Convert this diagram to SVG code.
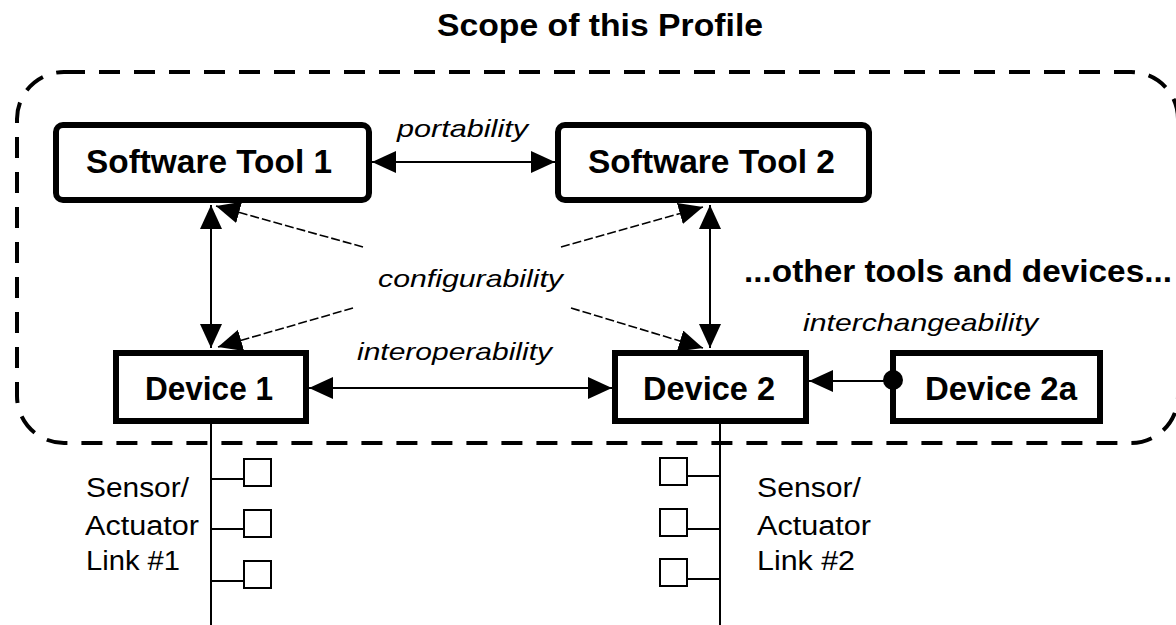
<svg xmlns="http://www.w3.org/2000/svg" width="1176" height="625" viewBox="0 0 1176 625">
  <defs>
    <marker id="ah" markerUnits="userSpaceOnUse" markerWidth="26" markerHeight="24" refX="24" refY="11" orient="auto-start-reverse" viewBox="0 0 26 24">
      <path d="M0,0 L24,11 L0,22 Z" fill="#000"/>
    </marker>
    <style>
      .bold { font-family: "Liberation Sans", Arial, sans-serif; font-weight: bold; fill: #000; }
      .ital { font-family: "Liberation Sans", Arial, sans-serif; font-style: italic; font-size: 24px; fill: #000; }
      .reg { font-family: "Liberation Sans", Arial, sans-serif; font-size: 27px; fill: #000; }
      .box { fill: #fff; stroke: #000; stroke-width: 6; }
      .conn { stroke: #000; stroke-width: 2; fill: none; }
      .dconn { stroke: #000; stroke-width: 1.6; fill: none; stroke-dasharray: 9 3; }
      .sq { fill: #fff; stroke: #000; stroke-width: 2; }
    </style>
  </defs>
  <rect width="1176" height="625" fill="#fff"/>

  <text class="bold" x="600" y="36" font-size="32" text-anchor="middle" textLength="326" lengthAdjust="spacingAndGlyphs">Scope of this Profile</text>

  <rect id="scope" x="17" y="72" width="1161" height="371" rx="47" fill="none" stroke="#000" stroke-width="4" stroke-dasharray="21 14"/>

  <g id="connectors">
    <line class="conn" x1="372" y1="162" x2="555" y2="162" marker-start="url(#ah)" marker-end="url(#ah)"/>
    <line class="conn" x1="211" y1="205" x2="211" y2="348" marker-start="url(#ah)" marker-end="url(#ah)"/>
    <line class="conn" x1="710" y1="205" x2="710" y2="348" marker-start="url(#ah)" marker-end="url(#ah)"/>
    <line class="conn" x1="309" y1="388" x2="612" y2="388" marker-start="url(#ah)" marker-end="url(#ah)"/>
    <line class="conn" x1="893" y1="381" x2="809" y2="381" marker-end="url(#ah)"/>
    <line class="dconn" x1="363" y1="247" x2="216" y2="206" marker-end="url(#ah)"/>
    <line class="dconn" x1="353" y1="308" x2="218" y2="347" marker-end="url(#ah)"/>
    <line class="dconn" x1="561" y1="247" x2="703" y2="207" marker-end="url(#ah)"/>
    <line class="dconn" x1="571" y1="308" x2="703" y2="348" marker-end="url(#ah)"/>
    <line class="conn" x1="211" y1="424" x2="211" y2="625"/>
    <line class="conn" x1="211" y1="479" x2="244" y2="479"/>
    <line class="conn" x1="211" y1="529" x2="244" y2="529"/>
    <line class="conn" x1="211" y1="581" x2="244" y2="581"/>
    <line class="conn" x1="720" y1="424" x2="720" y2="625"/>
    <line class="conn" x1="687" y1="476" x2="720" y2="476"/>
    <line class="conn" x1="687" y1="529" x2="720" y2="529"/>
    <line class="conn" x1="687" y1="579" x2="720" y2="579"/>
  </g>

  <g id="labels">
    <text class="ital" x="397" y="137" textLength="131" lengthAdjust="spacingAndGlyphs">portability</text>
    <text class="ital" x="378" y="287" textLength="185" lengthAdjust="spacingAndGlyphs">configurability</text>
    <text class="ital" x="357" y="360" textLength="195" lengthAdjust="spacingAndGlyphs">interoperability</text>
    <text class="ital" x="803" y="331" textLength="235" lengthAdjust="spacingAndGlyphs">interchangeability</text>
    <text class="bold" x="744" y="282" font-size="32" textLength="428" lengthAdjust="spacingAndGlyphs">...other tools and devices...</text>
  </g>

  <g id="tool1">
    <rect class="box" x="56" y="125" width="313" height="75" rx="7"/>
    <text class="bold" x="86" y="173" font-size="34" textLength="246" lengthAdjust="spacingAndGlyphs">Software Tool 1</text>
  </g>
  <g id="tool2">
    <rect class="box" x="558" y="125" width="311" height="75" rx="7"/>
    <text class="bold" x="588" y="173" font-size="34" textLength="247" lengthAdjust="spacingAndGlyphs">Software Tool 2</text>
  </g>
  <g id="device1">
    <rect class="box" x="116" y="353" width="190" height="68"/>
    <text class="bold" x="145" y="400" font-size="34" textLength="128" lengthAdjust="spacingAndGlyphs">Device 1</text>
  </g>
  <g id="device2">
    <rect class="box" x="615" y="353" width="191" height="68"/>
    <text class="bold" x="643" y="400" font-size="34" textLength="132" lengthAdjust="spacingAndGlyphs">Device 2</text>
  </g>
  <g id="device2a">
    <rect class="box" x="893" y="353" width="207" height="68"/>
    <text class="bold" x="925" y="400" font-size="34" textLength="152" lengthAdjust="spacingAndGlyphs">Device 2a</text>
    <circle cx="893" cy="380" r="10" fill="#000"/>
  </g>

  <g id="link1">
    <rect class="sq" x="244" y="459" width="27" height="27"/>
    <rect class="sq" x="244" y="510" width="27" height="27"/>
    <rect class="sq" x="244" y="561" width="27" height="27"/>
    <text class="reg" x="86" y="497" textLength="103" lengthAdjust="spacingAndGlyphs">Sensor/</text>
    <text class="reg" x="85" y="535" textLength="114" lengthAdjust="spacingAndGlyphs">Actuator</text>
    <text class="reg" x="86" y="570" textLength="94" lengthAdjust="spacingAndGlyphs">Link #1</text>
  </g>
  <g id="link2">
    <rect class="sq" x="660" y="458" width="27" height="27"/>
    <rect class="sq" x="660" y="509" width="27" height="27"/>
    <rect class="sq" x="660" y="559" width="27" height="27"/>
    <text class="reg" x="757" y="497" textLength="104" lengthAdjust="spacingAndGlyphs">Sensor/</text>
    <text class="reg" x="757" y="535" textLength="114" lengthAdjust="spacingAndGlyphs">Actuator</text>
    <text class="reg" x="757" y="570" textLength="98" lengthAdjust="spacingAndGlyphs">Link #2</text>
  </g>
</svg>
